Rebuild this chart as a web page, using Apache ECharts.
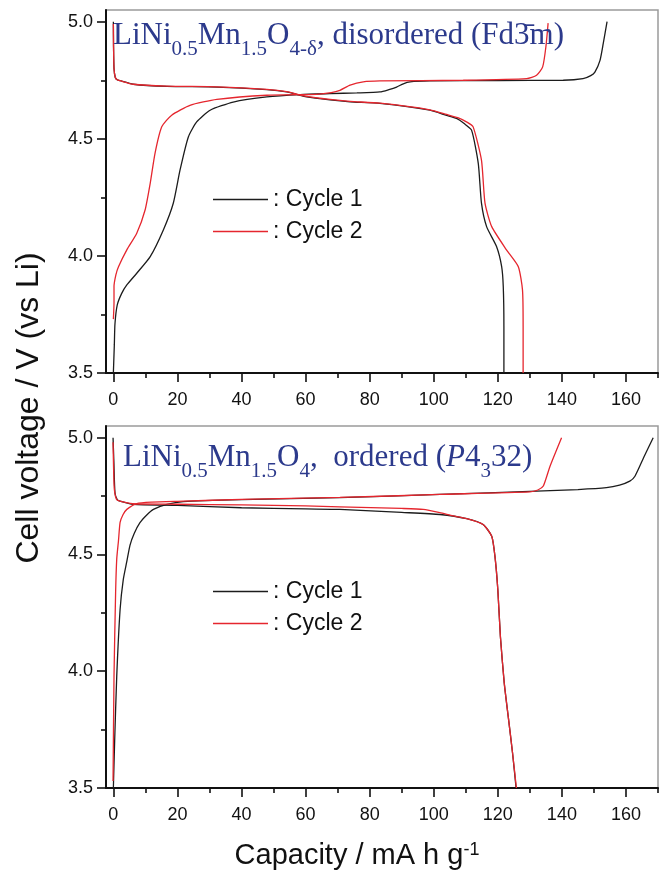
<!DOCTYPE html>
<html>
<head>
<meta charset="utf-8">
<script src="https://cdn.jsdelivr.net/npm/echarts@6/dist/echarts.min.js"></script>
<style>
  html, body { margin: 0; padding: 0; background: #fff; }
  #chart { width: 668px; height: 877px; }
</style>
</head>
<body>
<div id="chart"></div>
<script>
// Capacity (mA h g^-1) vs. cell voltage (V vs Li) for LiNi0.5Mn1.5O4 cathodes.

// Tick values
const xMajorTicks = [0, 20, 40, 60, 80, 100, 120, 140, 160];
const xMinorTicks = [10, 30, 50, 70, 90, 110, 130, 150, 170];
const yMajorTicks = [3.5, 4.0, 4.5, 5.0];
const yMinorTicks = [3.75, 4.25, 4.75];

// Disordered spinel (Fd-3m): [capacity, voltage]
const disC1Charge = [[0.0,3.50],[0.3,3.62],[0.5,3.71],[1.2,3.79],[2.6,3.84],[4.2,3.876],[7.3,3.926],[11.5,3.997],[15.6,4.111],[18.7,4.225],[20.8,4.366],[23.4,4.508],[26.0,4.572],[30.2,4.622],[37.4,4.657],[47.9,4.679],[58.3,4.689],[67.6,4.693],[76.0,4.696],[83.2,4.700],[86.0,4.710],[88.4,4.721],[90.5,4.735],[92.6,4.743],[98.8,4.747],[120.0,4.749],[140.4,4.750],[146.6,4.757],[149.0,4.770],[150.3,4.785],[151.9,4.835],[152.9,4.906],[154.1,5.0]];
const disC1Discharge = [[0.0,5.0],[0.05,4.90],[0.2,4.80],[0.6,4.762],[1.2,4.752],[2.1,4.748],[6.2,4.733],[16.7,4.724],[32.3,4.721],[47.9,4.710],[54.1,4.700],[60.3,4.679],[67.6,4.666],[73.9,4.658],[83.2,4.651],[98.8,4.622],[104.0,4.600],[107.1,4.587],[109.5,4.565],[111.8,4.537],[113.9,4.395],[114.9,4.225],[116.5,4.125],[119.6,4.040],[121.2,3.954],[121.7,3.869],[121.9,3.70],[121.9,3.50]];
const disC2Charge = [[0.0,3.73],[0.2,3.80],[0.2,3.869],[0.8,3.92],[1.6,3.954],[4.2,4.026],[7.3,4.097],[9.9,4.196],[11.5,4.310],[13.0,4.438],[15.1,4.551],[18.2,4.601],[23.9,4.643],[32.3,4.668],[47.9,4.686],[63.5,4.690],[68.0,4.697],[70.7,4.707],[73.9,4.729],[78.0,4.743],[83.2,4.747],[109.2,4.750],[129.0,4.757],[132.1,4.771],[134.0,4.807],[135.0,4.892],[135.7,4.994]];
const disC2Discharge = [[0.0,4.99],[0.05,4.90],[0.2,4.80],[0.6,4.762],[1.2,4.752],[2.1,4.748],[6.2,4.733],[16.7,4.725],[32.3,4.722],[47.9,4.711],[54.1,4.701],[60.3,4.681],[67.6,4.668],[73.9,4.660],[83.2,4.652],[98.8,4.624],[104.0,4.604],[107.5,4.590],[110.5,4.570],[112.3,4.551],[114.9,4.409],[116.0,4.225],[118.1,4.125],[122.7,4.026],[126.4,3.954],[127.7,3.855],[127.9,3.70],[127.9,3.50]];

// Ordered spinel (P4332): [capacity, voltage]
const ordC1Charge = [[0.0,3.50],[0.4,3.70],[1.05,3.978],[2.1,4.264],[3.1,4.393],[4.2,4.47],[5.2,4.54],[6.5,4.59],[8.3,4.636],[10.5,4.67],[12.5,4.693],[16.7,4.714],[21.8,4.726],[40.0,4.735],[70.7,4.743],[101.9,4.757],[132.1,4.771],[145.0,4.778],[153.9,4.786],[158.0,4.797],[161.2,4.814],[162.8,4.835],[165.6,4.917],[168.5,5.0]];
const ordC1Discharge = [[-0.1,5.0],[0.15,4.90],[0.5,4.764],[1.2,4.735],[2.1,4.728],[6.2,4.714],[20.0,4.710],[40.0,4.700],[60.0,4.695],[70.7,4.693],[90.0,4.680],[101.9,4.671],[110.3,4.653],[115.4,4.628],[118.1,4.578],[119.1,4.493],[120.0,4.35],[120.8,4.15],[122.0,3.95],[123.3,3.80],[124.6,3.65],[125.7,3.50]];
const ordC2Charge = [[-0.1,3.53],[0.2,3.978],[0.7,4.336],[1.05,4.48],[1.6,4.56],[2.1,4.637],[3.0,4.67],[4.2,4.693],[7.3,4.718],[12.0,4.724],[21.8,4.728],[40.0,4.736],[70.7,4.744],[101.9,4.757],[130.0,4.768],[132.5,4.776],[134.2,4.793],[136.3,4.878],[139.9,5.0]];
const ordC2Discharge = [[-0.1,4.98],[0.1,4.85],[0.3,4.78],[1.0,4.735],[2.0,4.728],[6.0,4.717],[20.0,4.715],[40.0,4.712],[60.0,4.708],[70.7,4.704],[90.0,4.697],[96.7,4.693],[101.9,4.679],[106.0,4.665],[110.3,4.653],[115.4,4.628],[118.1,4.578],[119.1,4.493],[120.0,4.35],[120.8,4.15],[122.0,3.95],[123.3,3.80],[124.6,3.65],[125.8,3.50]];

const SANS = 'Liberation Sans, Arial, sans-serif';
const SERIF = 'Liberation Serif, Times New Roman, serif';
const INK = '#111';
const BLACK = '#1c1c1c';
const RED = '#e5262e';
const BLUE = '#2c3a8c';

const X_MIN = -2.3, X_MAX = 170, Y_MIN = 3.5, Y_MAX = 5.05;

function majorX(grid) {
  return {
    type: 'value', gridIndex: grid, min: X_MIN, max: X_MAX, position: 'bottom',
    axisLine: { show: true, onZero: false, lineStyle: { color: INK, width: 2 } },
    axisTick: { show: true, length: 9, customValues: xMajorTicks, lineStyle: { color: INK, width: 1.6 } },
    axisLabel: { customValues: xMajorTicks, fontSize: 18, margin: 18, color: INK, fontFamily: SANS },
    splitLine: { show: false }
  };
}
function minorX(grid) {
  return {
    type: 'value', gridIndex: grid, min: X_MIN, max: X_MAX, position: 'bottom',
    axisLine: { show: false, onZero: false },
    axisTick: { show: true, length: 5, customValues: xMinorTicks, lineStyle: { color: INK, width: 1.6 } },
    axisLabel: { show: false },
    splitLine: { show: false }
  };
}
function majorY(grid) {
  return {
    type: 'value', gridIndex: grid, min: Y_MIN, max: Y_MAX, position: 'left',
    axisLine: { show: true, onZero: false, lineStyle: { color: INK, width: 2 } },
    axisTick: { show: true, length: 9, customValues: yMajorTicks, lineStyle: { color: INK, width: 1.6 } },
    axisLabel: { customValues: yMajorTicks, fontSize: 18, margin: 13, color: INK, fontFamily: SANS,
                 formatter: v => v.toFixed(1) },
    splitLine: { show: false }
  };
}
function minorY(grid) {
  return {
    type: 'value', gridIndex: grid, min: Y_MIN, max: Y_MAX, position: 'left',
    axisLine: { show: false, onZero: false },
    axisTick: { show: true, length: 5, customValues: yMinorTicks, lineStyle: { color: INK, width: 1.6 } },
    axisLabel: { show: false },
    splitLine: { show: false }
  };
}

function curve(name, data, color, axis) {
  return {
    type: 'line', name: name, data: data, xAxisIndex: axis, yAxisIndex: axis,
    showSymbol: false, symbol: 'none', smooth: 0.2,
    color: color, lineStyle: { color: color, width: 1.3 },
    emphasis: { disabled: true }, z: name === 'Cycle 2' ? 3 : 2
  };
}

const mainStyle = { fontFamily: SERIF, fontSize: 31, color: BLUE, fontWeight: 'normal' };
const richTitle = {
  m: mainStyle,
  i: Object.assign({}, mainStyle, { fontStyle: 'italic' }),
  s: { fontFamily: SERIF, fontSize: 21, color: BLUE, fontWeight: 'normal', padding: [27, 0, 0, 0] }
};

function legendAt(top) {
  return {
    data: ['Cycle 1', 'Cycle 2'], orient: 'vertical', left: 213, top: top, padding: 0,
    itemGap: 9, itemWidth: 55, itemHeight: 1.5, icon: 'rect', formatter: ': {name}',
    textStyle: { fontSize: 23, color: INK, fontFamily: SANS }, selectedMode: false
  };
}

const chart = echarts.init(document.getElementById('chart'), null, { renderer: 'canvas' });
chart.setOption({
  animation: false,
  backgroundColor: '#fff',
  grid: [
    { left: 106, top: 10, width: 552, height: 363, show: true, borderColor: '#9a9a9a', borderWidth: 1.5, outerBoundsMode: 'none' },
    { left: 106, top: 426, width: 552, height: 362, show: true, borderColor: '#9a9a9a', borderWidth: 1.5, outerBoundsMode: 'none' }
  ],
  xAxis: [majorX(0), majorX(1), minorX(0), minorX(1)],
  yAxis: [majorY(0), majorY(1), minorY(0), minorY(1)],
  title: [
    { left: 113, top: 12, padding: 0,
      text: '{m|LiNi}{s|0.5}{m|Mn}{s|1.5}{m|O}{s|4-δ}{m|, disordered (Fd3\u0304m)}',
      textStyle: { rich: richTitle } },
    { left: 123, top: 434, padding: 0,
      text: '{m|LiNi}{s|0.5}{m|Mn}{s|1.5}{m|O}{s|4}{m|,  ordered (}{i|P}{m|4}{s|3}{m|32)}',
      textStyle: { rich: richTitle } }
  ],
  legend: [legendAt(188), legendAt(580)],
  series: [
    curve('Cycle 1', disC1Charge, BLACK, 0),
    curve('Cycle 1', disC1Discharge, BLACK, 0),
    curve('Cycle 2', disC2Charge, RED, 0),
    curve('Cycle 2', disC2Discharge, RED, 0),
    curve('Cycle 1', ordC1Charge, BLACK, 1),
    curve('Cycle 1', ordC1Discharge, BLACK, 1),
    curve('Cycle 2', ordC2Charge, RED, 1),
    curve('Cycle 2', ordC2Discharge, RED, 1)
  ],
  graphic: [
    { type: 'text', x: 29, y: 408, rotation: Math.PI / 2,
      style: { text: 'Cell voltage / V (vs Li)', font: '32px ' + SANS, fill: INK,
               align: 'center', verticalAlign: 'middle' } },
    { type: 'text', x: 357, y: 841,
      style: { text: '{a|Capacity / mA h g}{b|-1}', fill: INK, align: 'center', verticalAlign: 'top',
               rich: {
                 a: { fontFamily: SANS, fontSize: 29, fill: INK, color: INK, lineHeight: 40, verticalAlign: 'top' },
                 b: { fontFamily: SANS, fontSize: 18, fill: INK, color: INK, lineHeight: 24, verticalAlign: 'top' }
               } } }
  ]
});
</script>
</body>
</html>
